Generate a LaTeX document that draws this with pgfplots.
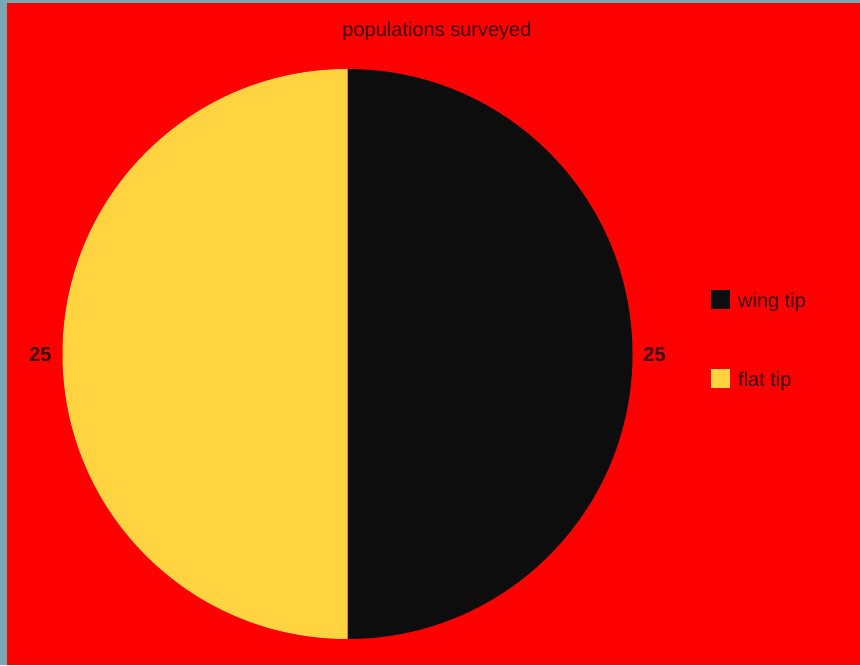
\documentclass[border=0pt]{standalone}
\usepackage{pgfplots}
\pgfplotsset{compat=1.18}
\usepackage{pgfplotstable}
\usetikzlibrary{calc}
\usepackage{fontspec}
\setmainfont{Liberation Sans}
\definecolor{bordercol}{RGB}{120,168,180}
\definecolor{bgred}{RGB}{255,0,0}
\definecolor{wingcol}{RGB}{13,13,13}
\definecolor{flatcol}{RGB}{255,212,64}
\definecolor{txtcol}{RGB}{60,0,0}

\pgfplotstableread{
name value
wing 25
flat 25
}\piedata

\pgfplotstablegetelem{0}{value}\of\piedata
\let\valA\pgfplotsretval
\pgfplotstablegetelem{1}{value}\of\piedata
\let\valB\pgfplotsretval
\pgfmathsetmacro{\tot}{\valA+\valB}
\pgfmathsetmacro{\angA}{360*\valA/\tot}
\pgfmathsetmacro{\angB}{360*\valB/\tot}
\pgfmathsetmacro{\endA}{90-\angA}
\pgfmathsetmacro{\endB}{\endA-\angB}
\pgfmathsetmacro{\midA}{90-\angA/2}
\pgfmathsetmacro{\midB}{\endA-\angB/2}

\begin{document}
\begin{tikzpicture}
\begin{axis}[
  width=860pt, height=665pt, scale only axis,
  xmin=0, xmax=860, ymin=0, ymax=665,
  hide axis, clip=false,
]
\fill[bordercol] (axis cs:0,0) rectangle (axis cs:860,665);
\fill[bgred] (axis cs:7,0) rectangle (axis cs:860,662);
% pie
\fill[wingcol] (axis cs:347.5,311) -- ++(90:285pt) arc[start angle=90, end angle=\endA, radius=285pt] -- cycle;
\fill[flatcol] (axis cs:347.5,311) -- ++(\endA:285pt) arc[start angle=\endA, end angle=\endB, radius=285pt] -- cycle;
% slice labels
\node[font=\fontsize{20}{24}\selectfont\bfseries, text=txtcol] at ($(axis cs:347.5,310)+(\midA:307pt)$) {\valA};
\node[font=\fontsize{20}{24}\selectfont\bfseries, text=txtcol] at ($(axis cs:347.5,310)+(\midB:307pt)$) {\valB};
% title
\node[font=\fontsize{20}{24}\selectfont, text=txtcol] at (axis cs:437,634) {populations surveyed};
% legend
\fill[wingcol] (axis cs:711,356) rectangle (axis cs:730,375);
\node[anchor=west, font=\fontsize{20}{24}\selectfont, text=txtcol, inner sep=0pt] at (axis cs:738,363) {wing tip};
\fill[flatcol] (axis cs:711,277) rectangle (axis cs:730,296);
\node[anchor=west, font=\fontsize{20}{24}\selectfont, text=txtcol, inner sep=0pt] at (axis cs:738,284) {flat tip};
\end{axis}
\end{tikzpicture}
\end{document}
